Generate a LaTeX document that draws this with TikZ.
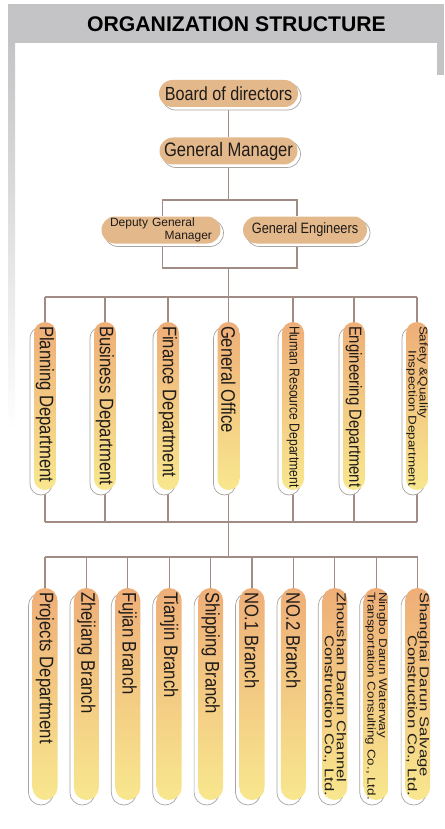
\documentclass[tikz,border=0pt]{standalone}
\usepackage{fontspec}
\setmainfont{Liberation Sans}
\newfontfamily\narrowfont[FakeStretch=0.85]{Liberation Sans}
\newfontfamily\widefont[FakeStretch=1.2]{Liberation Sans}
\newfontfamily\widerfont[FakeStretch=1.3]{Liberation Sans}
\usepackage{graphicx}
\usetikzlibrary{backgrounds}
\definecolor{bandgray}{HTML}{C4C4C6}
\definecolor{pilltan}{HTML}{E3B98C}
\definecolor{pilltop}{HTML}{EEAE78}
\definecolor{pillbot}{HTML}{F8E78E}
\definecolor{rimgray}{HTML}{A9A4A1}
\definecolor{linkbrown}{HTML}{A08C84}
\definecolor{inkdark}{HTML}{1F1B18}
\newcommand{\pillsize}[2]{\fontsize{#1pt}{#2pt}\selectfont}
\newcommand{\vlab}[2]{\rotatebox{-90}{\parbox{#1}{\raggedright #2}}}

\begin{document}
\begin{tikzpicture}[x=1pt,y=-1pt,
    link/.style={draw=linkbrown,line width=1.1pt},
    hpill/.style={rectangle,rounded corners=13.5pt,minimum height=27pt,inner sep=0pt,
      fill=pilltan,text=inkdark,
      preaction={draw=rimgray,fill=white,line width=0.7pt,transform canvas={shift={(3pt,-3pt)}}}},
    vpill/.style={rectangle,rounded corners=11pt,minimum width=22pt,inner sep=0pt,
      top color=pilltop,bottom color=pillbot,text=inkdark,
      preaction={draw=rimgray,fill=white,line width=0.7pt,transform canvas={shift={(-4pt,-5pt)}}}}]
  \useasboundingbox (0,0) rectangle (444,829);
  \fill[bandgray] (8,4) rectangle (444,43);
  \fill[bandgray] (437,43) rectangle (444,75);
  \shade[top color=bandgray,bottom color=white] (8,43) rectangle (15,430);
  \node[font=\bfseries\pillsize{21.2}{25}] (title) at (236.5,24) {ORGANIZATION STRUCTURE};

  \node[hpill,minimum width=139pt,font=\narrowfont\pillsize{19}{22}] (board) at (228.5,93.5) {Board of directors};
  \node[hpill,minimum width=138pt,font=\narrowfont\pillsize{19.5}{22}] (gm) at (228.5,151) {General Manager};
  \node[hpill,minimum width=119pt,font=\pillsize{12}{12.5},text width=102pt,align=left] (dgm) at (161,230)
    {Deputy General\\\hspace*{\fill}Manager};
  \node[hpill,minimum width=124pt,font=\narrowfont\pillsize{15}{18}] (ge) at (305,230) {General Engineers};

  \coordinate (gmjoin) at (228.5,200);
  \coordinate (mgtjoin) at (228.5,268);
  \coordinate (deptbar) at (228.5,297);
  \coordinate (deptfoot) at (228.5,522);
  \coordinate (branchbar) at (228.5,557);

  \foreach \x/\nm/\txt in {
      45/plan/{\narrowfont\pillsize{19.6}{22}\mbox{Planning Department}},
      105/business/{\narrowfont\pillsize{19.6}{22}\mbox{Business Department}},
      168/finance/{\narrowfont\pillsize{19.6}{22}\mbox{Finance Department}},
      228.5/office/{\narrowfont\pillsize{19.6}{22}\mbox{General Office}},
      293/hr/{\narrowfont\pillsize{14.3}{17}\mbox{Human Resource Department}},
      354/engineering/{\narrowfont\pillsize{17.5}{20}\mbox{Engineering Department}},
      417/safety/{\widefont\pillsize{11.2}{11}\mbox{Safety \&Quality}\\\hspace*{\fill}\mbox{Inspection Department}}}
    \node[vpill,minimum height=168pt] (\nm) at (\x,406) {\vlab{160pt}{\txt}};

  \foreach \i/\txt in {
      1/{\narrowfont\pillsize{19.6}{22}\mbox{Projects Department}},
      2/{\narrowfont\pillsize{19.6}{22}\mbox{Zhejiang Branch}},
      3/{\narrowfont\pillsize{19.6}{22}\mbox{Fujian Branch}},
      4/{\narrowfont\pillsize{19.6}{22}\mbox{Tianjin Branch}},
      5/{\narrowfont\pillsize{19.6}{22}\mbox{Shipping Branch}},
      6/{\narrowfont\pillsize{19.6}{22}\mbox{NO.1 Branch}},
      7/{\narrowfont\pillsize{19.6}{22}\mbox{NO.2 Branch}},
      8/{\widerfont\pillsize{12.8}{12}\mbox{Zhoushan Darun Channel}\\\hspace*{\fill}\mbox{Construction Co., Ltd.}},
      9/{\widefont\pillsize{11.2}{11.5}\mbox{Ningbo Darun Waterway}\\\mbox{Transportation Consulting Co., Ltd.}},
      10/{\widerfont\pillsize{12.8}{12}\mbox{Shanghai Darun Salvage}\\\hspace*{\fill}\mbox{Construction Co., Ltd.}}}
    \node[vpill,minimum width=25pt,rounded corners=12.5pt,minimum height=212pt] (br\i) at ({45+41.4*(\i-1)},694)
      {\vlab{204pt}{\txt}};

  \begin{scope}[on background layer]
    \draw[link] (board) -- (gm);
    \draw[link] (gm) -- (gmjoin);
    \draw[link] ([xshift=1.5pt]dgm.north) |- (gmjoin) -| ([xshift=-8pt]ge.north);
    \draw[link] ([xshift=1.5pt]dgm.south) |- (mgtjoin) -| ([xshift=-8pt]ge.south);
    \draw[link] (mgtjoin) -- (deptbar);
    \draw[link] (plan.north |- deptbar) -- (safety.north |- deptbar);
    \draw[link] (plan.south |- deptfoot) -- (safety.south |- deptfoot);
    \foreach \nm in {plan,business,finance,office,hr,engineering,safety} {
      \draw[link] (\nm.north) -- (\nm.north |- deptbar);
      \draw[link] (\nm.south) -- (\nm.south |- deptfoot);
    }
    \draw[link] (deptfoot) -- (branchbar);
    \draw[link] (br1.north |- branchbar) -- (br10.north |- branchbar);
    \foreach \i in {1,...,10}
      \draw[link] (br\i.north) -- (br\i.north |- branchbar);
  \end{scope}
\end{tikzpicture}
\end{document}
